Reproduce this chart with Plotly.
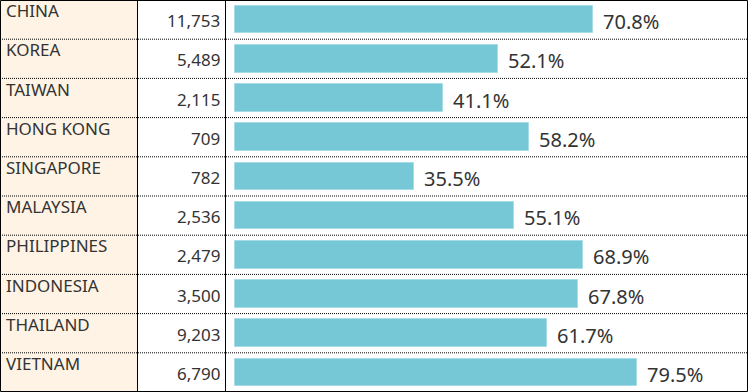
import plotly.graph_objects as go

countries = ["CHINA", "KOREA", "TAIWAN", "HONG KONG", "SINGAPORE",
             "MALAYSIA", "PHILIPPINES", "INDONESIA", "THAILAND", "VIETNAM"]
counts = [11753, 5489, 2115, 709, 782, 2536, 2479, 3500, 9203, 6790]
percents = [70.8, 52.1, 41.1, 58.2, 35.5, 55.1, 68.9, 67.8, 61.7, 79.5]

W, H = 748, 392
n = len(countries)
col1 = 137.5 / W
col2 = 225.5 / W
FONT = "Noto Sans"
TXT = "#333333"

fig = go.Figure()
fig.add_trace(go.Bar(
    x=percents, y=list(range(n)), orientation="h",
    width=0.7,
    marker=dict(color="#77C8D6", line=dict(color="#A6DCE6", width=1)),
    hoverinfo="skip", showlegend=False,
))

shapes = []
shapes.append(dict(type="rect", xref="paper", yref="paper", x0=0, x1=137 / W, y0=0, y1=1,
                   fillcolor="#FEF3E4", line=dict(width=0), layer="below"))
for i in range(n - 1):
    shapes.append(dict(type="line", xref="paper", yref="y", x0=0, x1=1,
                       y0=i + 0.5, y1=i + 0.5,
                       line=dict(color="#000000", width=1, dash="1px,1px")))
for xc in (col1, col2):
    shapes.append(dict(type="line", xref="paper", yref="paper", x0=xc, x1=xc, y0=0, y1=1,
                       line=dict(color="#000000", width=1)))
shapes.append(dict(type="rect", xref="paper", yref="paper", x0=0.5 / W, x1=1 - 0.5 / W,
                   y0=0.5 / H, y1=1 - 0.5 / H, line=dict(color="#000000", width=1)))

annotations = []
for i, (c, v, p) in enumerate(zip(countries, counts, percents)):
    annotations.append(dict(x=4 / W, xref="paper", y=i, yref="y", text=c,
                            showarrow=False, xanchor="left", yanchor="middle", yshift=9,
                            font=dict(family=FONT, size=17, color=TXT)))
    annotations.append(dict(x=222 / W, xref="paper", y=i, yref="y", text=f"{v:,}",
                            showarrow=False, xanchor="right", yanchor="middle", yshift=-1,
                            font=dict(family=FONT, size=17, color=TXT)))
    annotations.append(dict(x=p, xref="x", y=i, yref="y", text=f"{p:.1f}%",
                            showarrow=False, xanchor="left", yanchor="middle",
                            xshift=8, yshift=-2,
                            font=dict(family=FONT, size=20, color=TXT)))

fig.update_layout(
    width=W, height=H,
    margin=dict(l=0, r=0, t=0, b=0),
    paper_bgcolor="#FFFFFF", plot_bgcolor="rgba(0,0,0,0)",
    xaxis=dict(domain=[225 / W, 1], range=[-2.0, 101.5], visible=False, fixedrange=True),
    yaxis=dict(range=[n - 0.5, -0.5], visible=False, fixedrange=True),
    shapes=shapes, annotations=annotations,
    bargap=0,
)

fig.write_html("out.html", config={"displayModeBar": False},
               post_script="document.body.style.margin='0';document.body.style.overflow='hidden';")
